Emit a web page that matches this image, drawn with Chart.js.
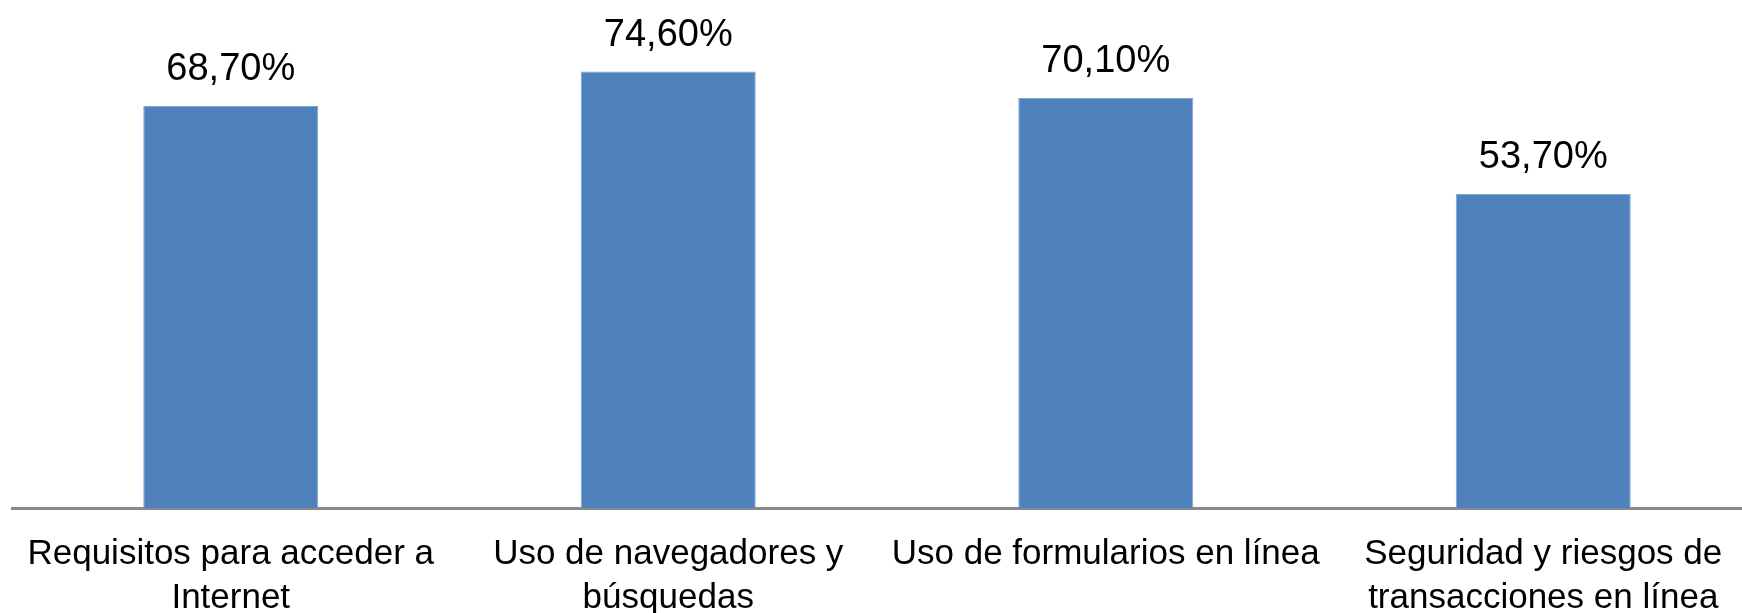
<!DOCTYPE html>
<html>
<head>
<meta charset="utf-8">
<script src="https://cdn.jsdelivr.net/npm/chart.js@4"></script>
<style>
    html, body { margin: 0; padding: 0; background: #fff; overflow: hidden; }
    #wrap { width: 1762px; height: 613px; }
</style>
</head>
<body>
<div id="wrap"><canvas id="barChart" width="1762" height="613"></canvas></div>
<script>
const categories = [
    ["Requisitos para acceder a", "Internet"],
    ["Uso de navegadores y", "búsquedas"],
    "Uso de formularios en línea",
    ["Seguridad y riesgos de", "transacciones en línea"]
];
const values = [68.7, 74.6, 70.1, 53.7];
const valueLabels = ["68,70%", "74,60%", "70,10%", "53,70%"];

const barColor = "#4F81BD";

// draws the percentage above each bar
const valueLabelPlugin = {
    id: "valueLabels",
    afterDatasetsDraw(chart) {
        const ctx = chart.ctx;
        const meta = chart.getDatasetMeta(0);
        ctx.save();
        ctx.font = "38px 'Liberation Sans', Arial, sans-serif";
        ctx.fillStyle = "#000";
        ctx.textAlign = "center";
        ctx.textBaseline = "alphabetic";
        meta.data.forEach((bar, i) => {
            ctx.fillText(valueLabels[i], bar.x, bar.y - 26);
        });
        ctx.restore();
    }
};

new Chart(document.getElementById("barChart"), {
    type: 'bar',
    data: {
        labels: categories,
        datasets: [{
            data: values,
            backgroundColor: barColor,
            borderColor: "#7fa3cf",
            borderWidth: { left: 1, right: 1, top: 1, bottom: 0 },
            barPercentage: 0.4,
            categoryPercentage: 1.0
        }]
    },
    options: {
        responsive: false,
        animation: false,
        layout: { padding: { left: 12, right: 0, top: 40, bottom: 0 } },
        plugins: { legend: { display: false }, tooltip: { enabled: false } },
        scales: {
            x: {
                grid: { display: false, drawTicks: false },
                border: { display: true, color: "#898989", width: 3 },
                ticks: {
                    color: "#000",
                    font: { family: "'Liberation Sans', Arial, sans-serif", size: 35, lineHeight: 1.26 },
                    padding: 24,
                    maxRotation: 0,
                    autoSkip: false
                },
                afterFit: (scale) => {
                    scale.height = 105;
                    scale.paddingLeft = 0;
                    scale.paddingRight = 0;
                }
            },
            y: {
                display: false,
                min: 0,
                max: 80
            }
        }
    },
    plugins: [valueLabelPlugin]
});
</script>
</body>
</html>
